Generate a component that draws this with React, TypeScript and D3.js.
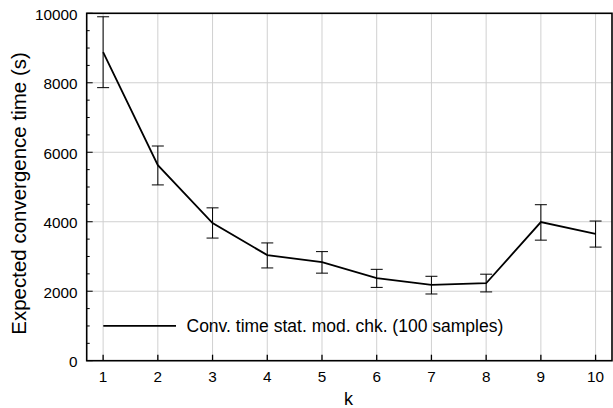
import React from "react";
import * as d3 from "d3";

const ks = [1, 2, 3, 4, 5, 6, 7, 8, 9, 10];
const means = [8880, 5630, 3960, 3040, 2840, 2380, 2180, 2230, 3990, 3650];
const lows = [7860, 5060, 3530, 2670, 2520, 2110, 1920, 1980, 3470, 3270];
const highs = [9900, 6180, 4400, 3390, 3140, 2630, 2430, 2490, 4490, 4020];
const yTicks = [0, 2000, 4000, 6000, 8000, 10000];
const legendLabel = "Conv. time stat. mod. chk. (100 samples)";
const xLabel = "k";
const yLabel = "Expected convergence time (s)";

export default function App() {
  const W = 613, H = 408;
  const L = 86.7, T = 13.3, R = 612, B = 360.7;
  const x = d3.scaleLinear().domain([0.7, 10.3]).range([L, R]);
  const y = d3.scaleLinear().domain([0, 10000]).range([B, T]);
  const line = d3.line<number>().x((_, i) => x(ks[i])).y((d) => y(d));
  const minor = d3.range(0, 10001, 500);
  const font = "'Liberation Sans', Arial, sans-serif";
  return (
    <svg width={W} height={H} style={{ position: "absolute", left: 0, top: 0 }} fontFamily={font}>
      <rect x={0} y={0} width={W} height={H} fill="#fff" />
      {ks.map((k) => (
        <line key={"gx" + k} x1={x(k)} x2={x(k)} y1={T} y2={B} stroke="#d0d0d0" strokeWidth={1} />
      ))}
      {yTicks.map((t) => (
        <line key={"gy" + t} x1={L} x2={R} y1={y(t)} y2={y(t)} stroke="#d0d0d0" strokeWidth={1} />
      ))}
      {minor.map((t) => (
        <line key={"mt" + t} x1={L} x2={L + (t % 2000 === 0 ? 6 : 3)} y1={y(t)} y2={y(t)} stroke="#000" strokeWidth={1} />
      ))}
      {ks.map((k) => (
        <line key={"xt" + k} x1={x(k)} x2={x(k)} y1={B} y2={B - 6} stroke="#000" strokeWidth={1.3} />
      ))}
      <path d={line(means) || ""} fill="none" stroke="#000" strokeWidth={1.8} />
      {ks.map((k, i) => (
        <g key={"eb" + k} stroke="#000" strokeWidth={1}>
          <line x1={x(k)} x2={x(k)} y1={y(lows[i])} y2={y(highs[i])} />
          <line x1={x(k) - 6} x2={x(k) + 6} y1={y(lows[i])} y2={y(lows[i])} />
          <line x1={x(k) - 6} x2={x(k) + 6} y1={y(highs[i])} y2={y(highs[i])} />
        </g>
      ))}
      <rect x={L} y={T} width={R - L} height={B - T} fill="none" stroke="#000" strokeWidth={1.6} />
      {yTicks.map((t) => (
        <text key={"yl" + t} x={77.5} y={y(t) + 6.5} textAnchor="end" fontSize={15.3}>{t}</text>
      ))}
      {ks.map((k) => (
        <text key={"xl" + k} x={x(k)} y={381.5} textAnchor="middle" fontSize={15.3}>{k}</text>
      ))}
      <text x={348.5} y={405} textAnchor="middle" fontSize={18}>{xLabel}</text>
      <text transform={`translate(25.7,193.5) rotate(-90)`} textAnchor="middle" fontSize={20.5}>{yLabel}</text>
      <line x1={103.3} x2={176} y1={y(1000)} y2={y(1000)} stroke="#000" strokeWidth={1.8} />
      <text x={186.5} y={y(1000) + 6} fontSize={17.5}>{legendLabel}</text>
    </svg>
  );
}
